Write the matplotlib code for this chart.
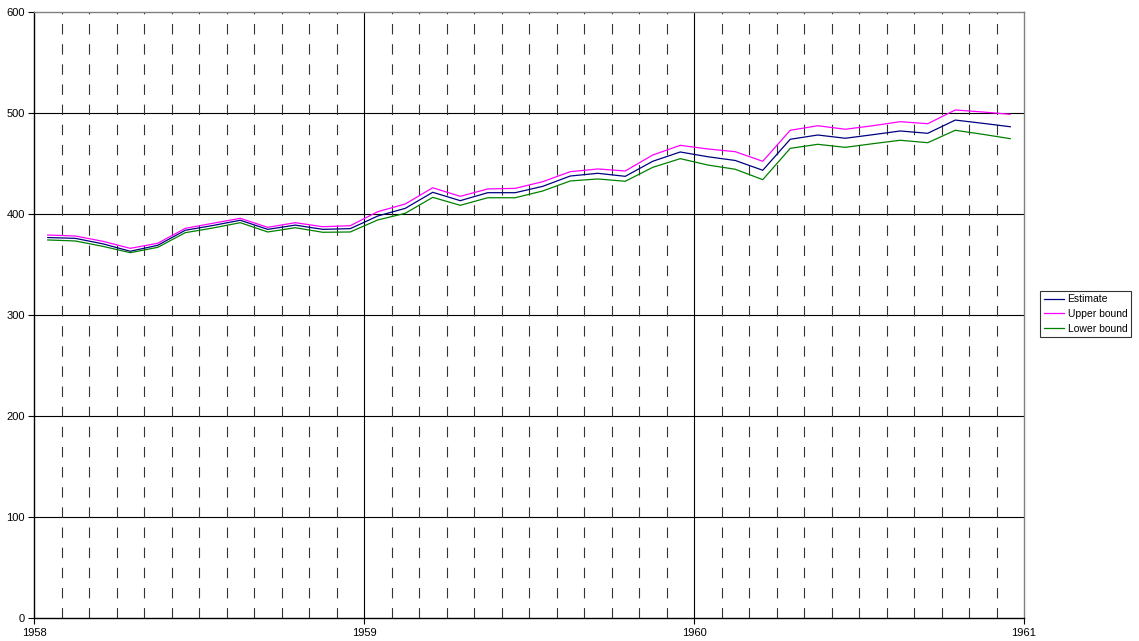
import matplotlib
matplotlib.use("Agg")
import matplotlib.pyplot as plt
import numpy as np

plt.rcParams['font.family'] = ['Liberation Sans', 'DejaVu Sans']
plt.rcParams['lines.scale_dashes'] = False

# Monthly points (mid-month), Jan 1958 .. Dec 1960
months = [1958 + (k + 0.5) / 12 for k in range(36)]
estimate = [376.7, 375.9, 370.5, 363.1, 369.0, 383.9, 388.6, 393.8, 384.8, 389.0, 384.8, 385.5,
            398.0, 405.6, 421.5, 413.2, 421.1, 421.1, 427.4, 437.6, 440.3, 437.3, 452.2, 461.4,
            456.7, 453.0, 443.3, 474.0, 478.2, 475.0, 478.5, 482.2, 479.9, 493.0, 489.8, 486.4]
upper = [379.2, 378.2, 373.0, 366.0, 371.0, 385.8, 390.8, 395.7, 386.8, 391.4, 387.4, 388.4,
         402.3, 409.9, 426.0, 417.5, 424.8, 425.4, 432.0, 441.9, 444.6, 442.6, 458.4, 468.0,
         464.4, 461.7, 452.2, 482.9, 487.4, 483.9, 487.4, 491.4, 489.4, 503.0, 501.0, 498.7]
lower = [374.3, 373.3, 368.0, 361.7, 367.0, 381.5, 386.1, 391.4, 382.2, 386.4, 381.9, 382.2,
         394.1, 400.7, 416.5, 408.6, 416.1, 416.1, 422.8, 432.7, 434.7, 432.4, 446.2, 454.8,
         448.5, 444.3, 434.0, 465.0, 469.0, 466.0, 469.6, 473.0, 470.6, 482.9, 478.9, 474.6]

year_ticks = [1958, 1959, 1960, 1961]
y_ticks = [0, 100, 200, 300, 400, 500, 600]

W, H = 1139, 641
fig = plt.figure(figsize=(W / 100, H / 100), dpi=100)
ax = fig.add_axes([34 / W, 1 - 618 / H, (1024 - 34) / W, (618 - 12) / H])

ax.set_xlim(1958, 1961)
ax.set_ylim(0, 600)

# gridlines
for yv in y_ticks[1:-1]:
    ax.axhline(yv, color='black', lw=0.8, zorder=1)
for xv in year_ticks[1:-1]:
    ax.axvline(xv, color='black', lw=0.8, zorder=1)
for k in range(1, 36):
    if k % 12 == 0:
        continue
    ax.axvline(1958 + k / 12, color='#333333', lw=0.8, dashes=(7.5, 7.0), zorder=1)

ax.plot(months, estimate, color='#000080', lw=0.9, label='Estimate', zorder=3)
ax.plot(months, upper, color='#FF00FF', lw=0.9, label='Upper bound', zorder=3)
ax.plot(months, lower, color='#008000', lw=0.9, label='Lower bound', zorder=3)

ax.set_xticks(year_ticks)
ax.set_xticklabels([str(y) for y in year_ticks])
ax.set_yticks(y_ticks)
ax.tick_params(axis='both', labelsize=8, length=4, width=0.8, color='black', pad=2.5)
ax.tick_params(axis='x', pad=3)

for side in ['left', 'bottom']:
    ax.spines[side].set_color('black')
    ax.spines[side].set_linewidth(1.0)
for side in ['right', 'top']:
    ax.spines[side].set_color('#808080')
    ax.spines[side].set_linewidth(1.0)

leg = fig.legend(loc='center left', bbox_to_anchor=(1040 / W, 1 - 314 / H), fontsize=7.5,
                 frameon=True, fancybox=False, edgecolor='black', handlelength=2.0,
                 handletextpad=0.3, borderpad=0.35, labelspacing=0.45, borderaxespad=0)
leg.get_frame().set_linewidth(0.8)

fig.savefig('out.png', dpi=100)
